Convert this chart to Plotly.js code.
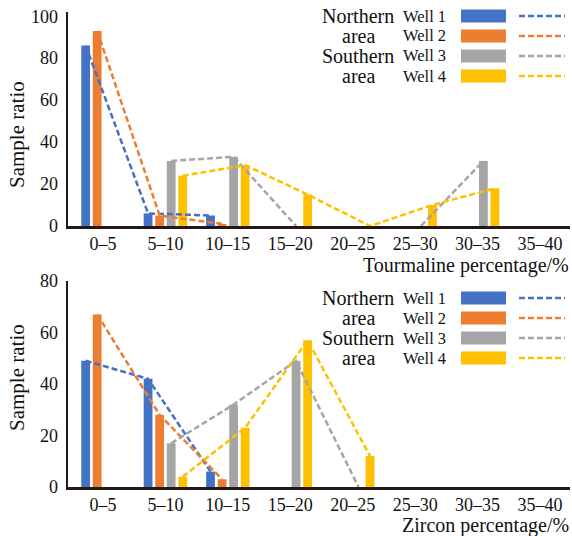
<!DOCTYPE html>
<html>
<head>
<meta charset="utf-8">
<script src="https://cdn.plot.ly/plotly-3.0.1.min.js"></script>
<style>html,body{margin:0;padding:0;background:#fff;}#chart{width:572px;height:536px;}</style>
</head>
<body>
<div id="chart"></div>
<script>
// ---- data ----
const categories = ['0–5', '5–10', '10–15', '15–20', '20–25', '25–30', '30–35', '35–40'];
const wellNames = ['Well 1', 'Well 2', 'Well 3', 'Well 4'];
const areaLines = ['Northern', 'area', 'Southern', 'area'];

// Tourmaline (top panel)
const tourWell1 = [86, 6, 5, null, null, null, null, null];
const tourWell2 = [93, 5, 1, null, null, null, null, null];
const tourWell3 = [null, 31, 33, 0, null, 0, 31, null];
const tourWell4 = [null, 24, 29, 15, 0, 10, 18, null];

// Zircon (bottom panel)
const zircWell1 = [49, 42, 6, null, null, null, null, null];
const zircWell2 = [67, 28, 3, null, null, null, null, null];
const zircWell3 = [null, 17, 32, 49, 0, null, null, null];
const zircWell4 = [null, 4, 23, 57, 12, null, null, null];

const yTicksTop = [0, 20, 40, 60, 80, 100];
const yTicksBottom = [0, 20, 40, 60, 80];

// ---- style ----
const colors = ['#4472C4', '#ED7D31', '#A5A5A5', '#FFC000'];
const FONT = 'Liberation Serif';
const AXC = '#231815';
const W = 572, H = 536;
const M = {l: 68, r: 2, t: 12, b: 49};
const PW = W - M.l - M.r, PH = H - M.t - M.b;
const px = x => (x - M.l) / PW;
const py = y => (H - M.b - y) / PH;

const topSets = [tourWell1, tourWell2, tourWell3, tourWell4];
const botSets = [zircWell1, zircWell2, zircWell3, zircWell4];

const traces = [];
function addPanel(sets, xa, ya) {
  sets.forEach((vals, i) => {
    traces.push({
      type: 'bar', x: categories, y: vals, name: wellNames[i],
      xaxis: xa, yaxis: ya, offsetgroup: String(i + 1),
      marker: {color: colors[i]}, showlegend: false, hoverinfo: 'skip'
    });
  });
  sets.forEach((vals, i) => {
    traces.push({
      type: 'scatter', mode: 'lines', x: categories, y: vals, name: wellNames[i],
      xaxis: xa, yaxis: ya, offsetgroup: String(i + 1),
      connectgaps: false, cliponaxis: false,
      line: {color: colors[i], width: 2.5, dash: '6px,3px'},
      showlegend: false, hoverinfo: 'skip'
    });
  });
}
addPanel(topSets, 'x', 'y');
addPanel(botSets, 'x2', 'y2');

const xBase = {
  type: 'category', categoryarray: categories, range: [-0.56, 7.48],
  showline: true, linecolor: AXC, linewidth: 2.5, ticks: '', showgrid: false, zeroline: false,
  tickfont: {family: FONT, size: 18, color: '#111'}, ticklabelstandoff: 0, fixedrange: true
};
const yBase = {
  showline: true, linecolor: AXC, linewidth: 2.5, ticks: '', showgrid: false, zeroline: false,
  tickfont: {family: FONT, size: 18, color: '#111'}, ticklabelstandoff: 4, fixedrange: true
};

const annotations = [];
const shapes = [];
function legend(rowYs) {
  rowYs.forEach((ry, i) => {
    annotations.push({
      xref: 'paper', yref: 'paper', x: px(358), y: py(ry),
      text: areaLines[i], showarrow: false, xanchor: 'center', yanchor: 'middle',
      font: {family: FONT, size: 20, color: '#111'}
    });
    annotations.push({
      xref: 'paper', yref: 'paper', x: px(401), y: py(ry),
      text: wellNames[i].replace(' ', '&nbsp;'), showarrow: false, xanchor: 'left', yanchor: 'middle',
      font: {family: FONT, size: 16.5, color: '#111'}
    });
    shapes.push({type: 'rect', xref: 'paper', yref: 'paper',
      x0: px(461), x1: px(506), y0: py(ry + 6.5), y1: py(ry - 6.5),
      fillcolor: colors[i], line: {width: 0}});
    shapes.push({type: 'line', xref: 'paper', yref: 'paper',
      x0: px(519), x1: px(565), y0: py(ry), y1: py(ry),
      line: {color: colors[i], width: 2.5, dash: '6px,3px'}});
  });
}
legend([16, 36, 56, 76]);
legend([298, 318, 338, 358]);

// axis titles
annotations.push({xref: 'paper', yref: 'paper', x: px(571), y: py(265), text: 'Tourmaline percentage/%',
  showarrow: false, xanchor: 'right', yanchor: 'middle', font: {family: FONT, size: 20, color: '#111'}});
annotations.push({xref: 'paper', yref: 'paper', x: px(571), y: py(525), text: 'Zircon percentage/%',
  showarrow: false, xanchor: 'right', yanchor: 'middle', font: {family: FONT, size: 20, color: '#111'}});
annotations.push({xref: 'paper', yref: 'paper', x: px(17), y: py(135), text: 'Sample ratio', textangle: -90,
  showarrow: false, xanchor: 'center', yanchor: 'middle', font: {family: FONT, size: 21, color: '#111'}});
annotations.push({xref: 'paper', yref: 'paper', x: px(17), y: py(378), text: 'Sample ratio', textangle: -90,
  showarrow: false, xanchor: 'center', yanchor: 'middle', font: {family: FONT, size: 21, color: '#111'}});

const layout = {
  width: W, height: H, margin: M, paper_bgcolor: '#fff', plot_bgcolor: '#fff',
  barmode: 'group', bargap: 0.26, bargroupgap: 0.24,
  scattermode: 'group', scattergap: 0.26,
  showlegend: false,
  font: {family: FONT},
  xaxis: Object.assign({}, xBase, {anchor: 'y'}),
  yaxis: Object.assign({}, yBase, {domain: [py(226), 1], range: [0, 102], tickvals: yTicksTop, anchor: 'x'}),
  xaxis2: Object.assign({}, xBase, {anchor: 'y2'}),
  yaxis2: Object.assign({}, yBase, {domain: [0, py(281)], range: [0, 80], tickvals: yTicksBottom, anchor: 'x2'}),
  annotations: annotations, shapes: shapes
};

Plotly.newPlot('chart', traces, layout, {staticPlot: true, displayModeBar: false});
</script>
</body>
</html>
